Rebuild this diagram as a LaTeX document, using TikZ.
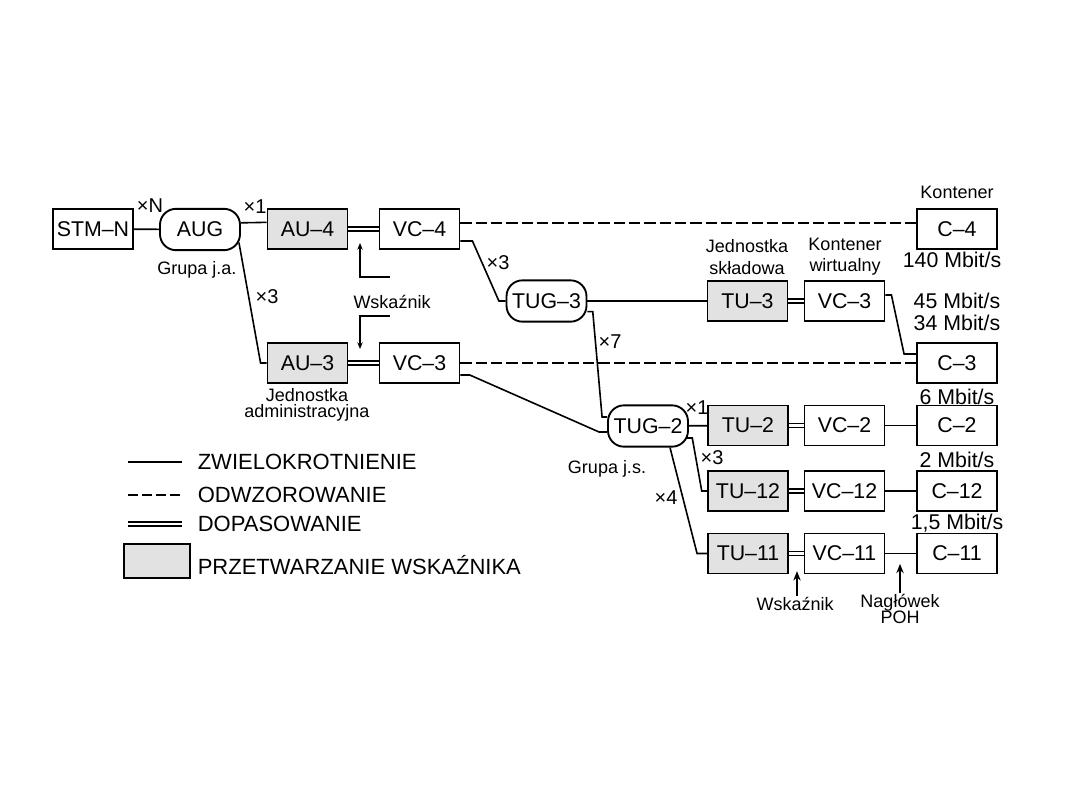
\documentclass[tikz,border=0pt]{standalone}
\usepackage{fontspec}
\setmainfont{Liberation Sans}
\usepackage{tikz}
\usetikzlibrary{arrows.meta}
\definecolor{SdhPtrGray}{RGB}{226,226,226}

\begin{document}
\begin{tikzpicture}[x=0.75pt,y=-0.75pt,line width=1.2pt,
  box/.style={draw,line width=1.4pt,rectangle,minimum width=60pt,minimum height=30pt,inner sep=0pt,font=\fontsize{16}{18}\selectfont},
  ptr/.style={box,fill=SdhPtrGray},
  grp/.style={box,minimum height=31pt,rounded corners=12pt},
  lbl/.style={font=\fontsize{13.5}{12.5}\selectfont,align=center,inner sep=0pt},
  rate/.style={font=\fontsize{16}{18}\selectfont,inner sep=0pt},
  mul/.style={font=\fontsize{15}{18}\selectfont,inner sep=0pt},
  leg/.style={font=\fontsize{16.5}{18}\selectfont,inner sep=0pt,anchor=west},
  dop/.style={double,line width=1pt,double distance=2.2pt},
  odw/.style={dash pattern=on 8.5pt off 3pt},
  wsk/.style={-{Stealth[length=5pt,width=4pt]},line width=0.9pt},
  wskb/.style={-{Stealth[length=7pt,width=5.5pt]},line width=1.6pt}]
\useasboundingbox (0,0) rectangle (1080,810);
% main chain
\node[box] (stm) at (93,229) {STM--N};
\node[grp] (aug) at (200,229.5) {AUG};
\node[ptr] (au4) at (307.5,229) {AU--4};
\node[box] (vc4) at (419.5,229) {VC--4};
\node[ptr] (au3) at (307.5,363) {AU--3};
\node[box] (vc3a) at (419.5,363) {VC--3};
\node[grp] (tug3) at (546.5,301) {TUG--3};
\node[ptr] (tu3) at (747.5,301) {TU--3};
\node[box] (vc3) at (844.5,301) {VC--3};
\node[box] (c4) at (957,229) {C--4};
\node[box] (c3) at (957,363) {C--3};
\node[grp] (tug2) at (648,426) {TUG--2};
\foreach \n/\y in {2/425.5,12/491,11/553.5} {
   \node[ptr] (tu\n) at (748,\y) {TU--\n};
   \node[box] (vc\n) at (844.5,\y) {VC--\n};
   \node[box] (c\n) at (957,\y) {C--\n};
   \draw[dop] (tu\n) -- (vc\n);
   \draw (vc\n) -- (c\n);
}
% connections
\draw (stm) -- (aug);
\draw ([yshift=5pt]aug.east) -- ([yshift=5pt]au4.west);
\draw ([shift={(-2,13)}]aug.east) -- ([xshift=-4.5pt]au3.west) -- (au3.west);
\draw[dop] (au4) -- (vc4);
\draw[dop] (au3) -- (vc3a);
\draw[odw] ([yshift=4.5pt]vc4.east) -- ([yshift=4.5pt]c4.west);
\draw[odw] (vc3a) -- (c3);
\draw ([yshift=-9pt]vc4.east) -- ++(9pt,0) -- ([xshift=-5pt]tug3.west) -- (tug3.west);
\draw (tug3) -- (tu3);
\draw[dop] (tu3) -- (vc3);
\draw ([yshift=4.5pt]vc3.east) -- ++(4.5pt,0) -- ([shift={(-12,-9)}]c3.west) -- ([yshift=6.75pt]c3.west);
\draw ([yshift=-9pt]vc3a.east) -- ++(7pt,0) -- ([shift={(-8,6)}]tug2.west) -- ([yshift=-4.5pt]tug2.west);
\draw ([yshift=-8pt]tug3.east) -- ++(4pt,0) -- ([shift={(-5,-9)}]tug2.west) -- ([yshift=6.75pt]tug2.west);
\draw (tug2) -- (tu2);
\draw ([shift={(-2,12)}]tug2.east) -- ++(4pt,0) -- ([xshift=-4pt]tu12.west) -- (tu12.west);
\draw ([xshift=16.5pt]tug2.south) -- ([xshift=-7.5pt]tu11.west) -- (tu11.west);
% pointer arrows
\node[lbl] (wsk1) at (392,302) {Wskaźnik};
\coordinate (wa) at (390,277);
\coordinate (wta) at (360,243);
\coordinate (wb) at (390,316);
\coordinate (wtb) at (360,349);
\draw[wsk] (wa) -| (wta);
\draw[wsk] (wb) -| (wtb);
\node[lbl] (wsk2) at (795,604) {Wskaźnik};
\node[lbl] (poh) at (900,609) {Nagłówek\\POH};
\draw[wskb] ([xshift=1.5pt]wsk2.north) -- ++(0pt,19pt);
\draw[wskb] (poh.north) -- ++(0pt,22pt);
% labels
\node[mul] (xn) at (150,206) {×N};
\node[mul] (x1a) at (255,207) {×1};
\node[mul] (x3a) at (267,297) {×3};
\node[mul] (x3b) at (498,263) {×3};
\node[mul] (x7) at (610,342) {×7};
\node[mul] (x1b) at (697,408) {×1};
\node[mul] (x3c) at (712,458) {×3};
\node[mul] (x4) at (666,498) {×4};
\node[lbl] (gja) at (197,270) {Grupa j.a.};
\node[lbl] (gjs) at (607,469) {Grupa j.s.};
\node[lbl] (jadm) at (307,405) {Jednostka\\administracyjna};
\node[lbl,font=\fontsize{13.5}{16}\selectfont] (jskl) at (747,257) {Jednostka\\składowa};
\node[lbl,font=\fontsize{13.5}{16}\selectfont] (kwir) at (845,257) {Kontener\\wirtualny};
\node[lbl] (kont) at (957,192) {Kontener};
\node[rate] (r140) at (952,260) {140 Mbit/s};
\node[rate] (r45) at (957,301) {45 Mbit/s};
\node[rate] (r34) at (957,323) {34 Mbit/s};
\node[rate] (r6) at (957,397) {6 Mbit/s};
\node[rate] (r2) at (957,460) {2 Mbit/s};
\node[rate] (r15) at (957,523) {1,5 Mbit/s};
% legend
\coordinate (l1) at (128,462);
\coordinate (l2) at (128,495);
\coordinate (l3) at (128,524);
\draw (l1) -- ++(40.5pt,0);
\draw[odw,dash pattern=on 7.5pt off 3pt] (l2) -- ++(40.5pt,0);
\draw[dop] (l3) -- ++(40.5pt,0);
\node[ptr,minimum width=49.5pt,minimum height=25.5pt] (lbox) at (157,561) {};
\node[leg] (t1) at (197,462) {ZWIELOKROTNIENIE};
\node[leg] (t2) at (197,495) {ODWZOROWANIE};
\node[leg] (t3) at (197,524) {DOPASOWANIE};
\node[leg] (t4) at (197,565) {PRZETWARZANIE WSKAŹNIKA};
\end{tikzpicture}
\end{document}
